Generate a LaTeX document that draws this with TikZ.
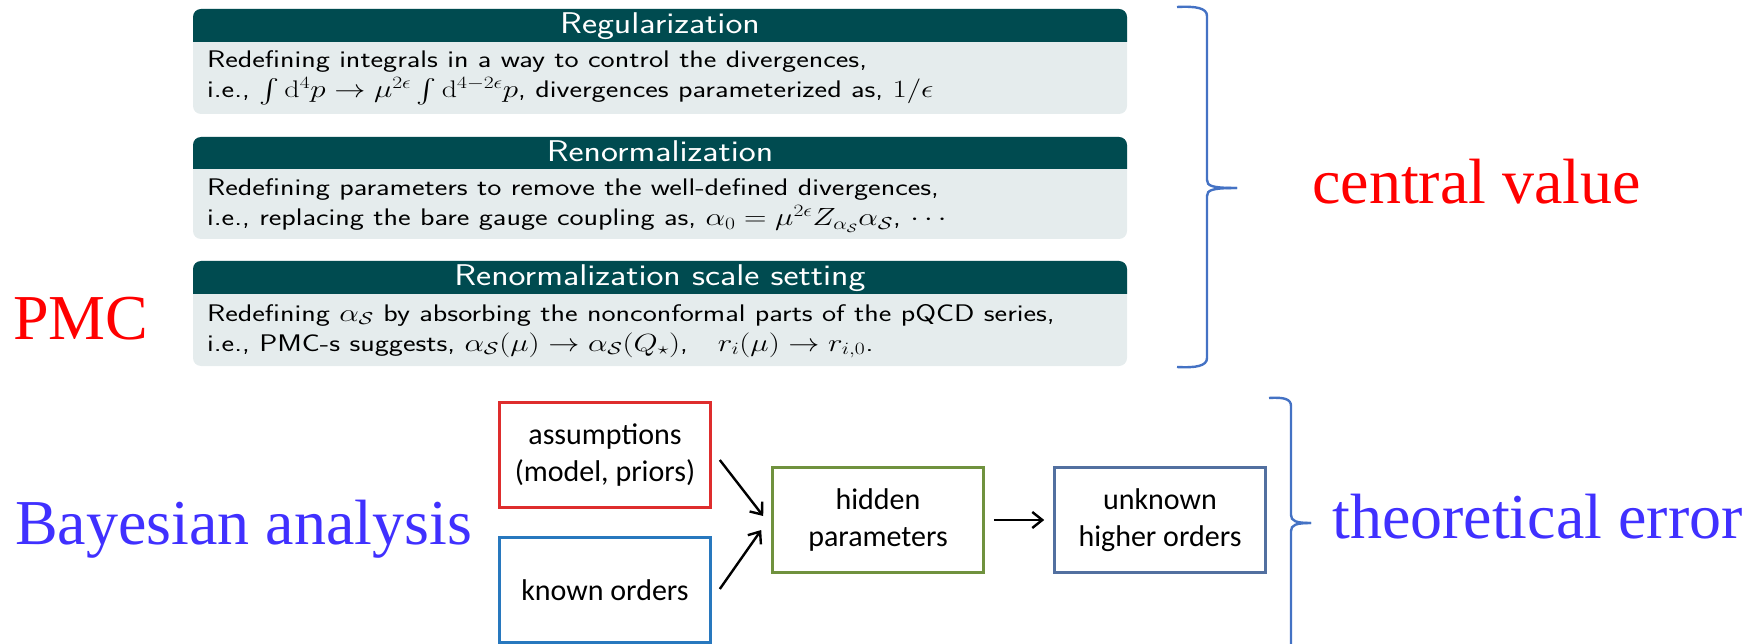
\documentclass[tikz,border=0pt]{standalone}
\usepackage{fontspec}
\usepackage{amsmath,amssymb}
\usetikzlibrary{arrows.meta,calc}
\newfontfamily\tnr{Liberation Serif}
\newfontfamily\cali{Carlito}
\definecolor{hdr}{RGB}{0,75,80}
\definecolor{bodyc}{RGB}{229,236,237}
\definecolor{bracec}{RGB}{68,114,196}
\definecolor{bayes}{RGB}{64,48,255}
\definecolor{boxred}{RGB}{222,45,45}
\definecolor{boxblue}{RGB}{40,120,190}
\definecolor{boxgreen}{RGB}{112,146,62}
\definecolor{boxsteel}{RGB}{82,112,160}
\newcommand\stretchtx[1]{\scalebox{1.25}[1]{#1}}
\newcommand\stretchhd[1]{\scalebox{1.2}[1]{#1}}
\begin{document}
\begin{tikzpicture}[x=1pt,y=-1pt,
  blocktitle/.style={font=\sffamily\fontsize{30}{32}\selectfont,text=white,anchor=base,inner sep=0},
  blocktext/.style={font=\sffamily\fontsize{24}{30}\selectfont,text=black,anchor=base west,inner sep=0},
  bigred/.style={font=\tnr\fontsize{64}{70}\selectfont,text=red,anchor=base west,inner sep=0},
  bigblue/.style={font=\tnr\fontsize{64}{70}\selectfont,text=bayes,anchor=base west,inner sep=0},
  flowbox/.style={draw,line width=2.6pt,minimum width=211pt,minimum height=105pt,align=center,
    font=\cali\fontsize{30}{37}\selectfont,inner sep=0},
  arr/.style={line width=2.4pt,-{Straight Barb[length=10pt,width=16pt,line width=2.4pt]}},
  bracestyle/.style={draw=bracec,line width=2.4pt}]
\useasboundingbox (0,0) rectangle (1756,644);

% ---- blocks ----
\foreach \t/\h/\b in {9/42/114,137/169/239,261/294/366}{
  \fill[bodyc,rounded corners=8pt] (193,\t) rectangle (1127,\b);
  \fill[hdr] (193,\h) [rounded corners=8pt] -- (193,\t) -- (1127,\t) [sharp corners] -- (1127,\h) -- cycle;
}
\node[blocktitle] (t1) at (660,34) {\stretchhd{Regularization}};
\node[blocktext] (a1) at (207,68) {\stretchtx{Redefining integrals in a way to control the divergences,}};
\node[blocktext] (b1) at (207,98) {\stretchtx{i.e., $\int \mathrm{d}^4p \rightarrow \mu^{2\epsilon}\int \mathrm{d}^{4-2\epsilon}p$, divergences parameterized as, $1/\epsilon$}};

\node[blocktitle] (t2) at (660,162) {\stretchhd{Renormalization}};
\node[blocktext] (a2) at (207,196) {\stretchtx{Redefining parameters to remove the well-defined divergences,}};
\node[blocktext] (b2) at (207,226) {\stretchtx{i.e., replacing the bare gauge coupling as, $\alpha_0=\mu^{2\epsilon}Z_{\alpha_{\mathcal{S}}}\alpha_{\mathcal{S}}$, $\cdots$}};

\node[blocktitle] (t3) at (660,286) {\stretchhd{Renormalization scale setting}};
\node[blocktext] (a3) at (207,321) {\stretchtx{Redefining $\alpha_{\mathcal{S}}$ by absorbing the nonconformal parts of the pQCD series,}};
\node[blocktext] (b3) at (207,351) {\stretchtx{i.e., PMC-s suggests, $\alpha_{\mathcal{S}}(\mu)\rightarrow\alpha_{\mathcal{S}}(Q_\star)$,\quad $r_i(\mu)\rightarrow r_{i,0}$.}};

% ---- big labels ----
\node[bigred] (pmc) at (13,339) {PMC};
\node[bigred] (cv) at (1312,204) {central value};
\node[bigblue] (ba) at (15,544) {Bayesian analysis};
\node[bigblue] (te) at (1332,538) {theoretical error};

% ---- braces ----
\coordinate (br1tip) at (1237,188);
\draw[bracestyle] (1177,7) .. controls (1196,6) and (1207,8) .. (1207,16) -- (1207,180)
   .. controls (1207,186) and (1212,188) .. (br1tip);
\draw[bracestyle] (br1tip) .. controls (1212,188) and (1207,190) .. (1207,196) -- (1207,358)
   .. controls (1207,366) and (1196,368) .. (1177,367);
\coordinate (br2tip) at (1311,523);
\draw[bracestyle] (1269,398) .. controls (1284,397) and (1291,399) .. (1291,406) -- (1291,515)
   .. controls (1291,521) and (1296,523) .. (br2tip);
\draw[bracestyle] (br2tip) .. controls (1296,523) and (1291,525) .. (1291,531) -- (1291,646);

% ---- flow boxes ----
\node[flowbox,draw=boxred] (as) at (605,455) {assumptions\\(model, priors)};
\node[flowbox,draw=boxblue] (ko) at (605,590) {known orders};
\node[flowbox,draw=boxgreen] (hp) at (878,520) {hidden\\parameters};
\node[flowbox,draw=boxsteel] (uh) at (1160,520) {unknown\\higher orders};

\draw[arr] ([xshift=8pt,yshift=-5pt]as.east) -- ([xshift=-8pt,yshift=4pt]hp.west);
\draw[arr] ([xshift=8pt,yshift=1pt]ko.east) -- ([xshift=-10pt,yshift=-10pt]hp.west);
\draw[arr] ([xshift=9pt]hp.east) -- ([xshift=-9pt]uh.west);
\end{tikzpicture}
\end{document}
